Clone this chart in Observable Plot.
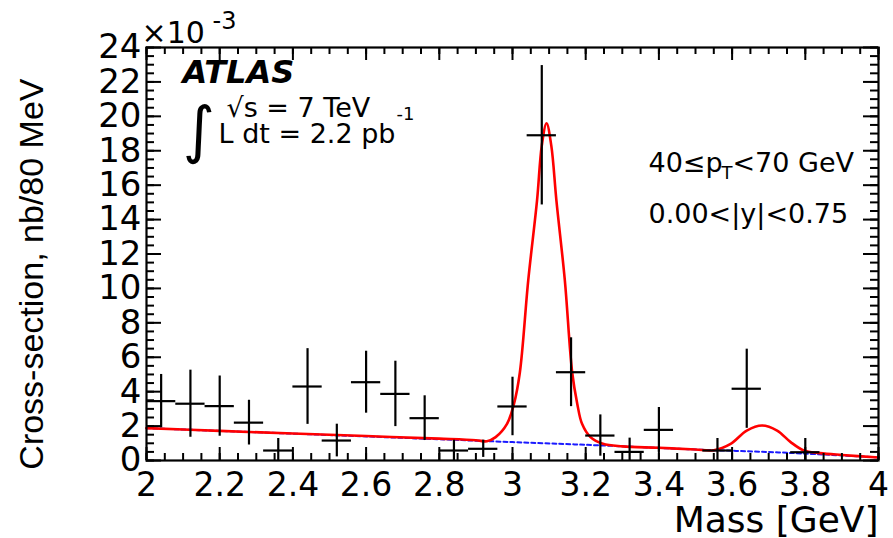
<!DOCTYPE html>
<html>
<head>
<meta charset="utf-8">
<script src="https://cdn.jsdelivr.net/npm/d3@7"></script>
<script src="https://cdn.jsdelivr.net/npm/@observablehq/plot@0.6"></script>
<style>
  html, body { margin: 0; padding: 0; background: white; }
  #chart svg { display: block; }
</style>
</head>
<body>
<div id="chart"></div>
<script>
// ---- Data points (mass bin centre in GeV, cross-section ×10^-3 nb/80 MeV, stat. error) ----
const binMass  = [2.04, 2.12, 2.20, 2.28, 2.36, 2.44, 2.52, 2.60, 2.68, 2.76, 2.84, 2.92, 3.00, 3.08, 3.16, 3.24, 3.32, 3.40, 3.56, 3.64, 3.80];
const binValue = [3.45, 3.30, 3.16, 2.20, 0.58, 4.30, 1.16, 4.55, 3.87, 2.46, 0.58, 0.68, 3.14, 18.9, 5.13, 1.45, 0.50, 1.78, 0.58, 4.17, 0.48];
const binError = [1.55, 1.95, 1.75, 1.30, 0.70, 2.20, 0.95, 1.80, 1.90, 1.30, 0.60, 0.50, 1.70, 4.05, 2.00, 1.20, 0.80, 1.30, 0.70, 2.30, 0.80];
const binHalfWidth = 0.04;

// ---- Fit curve (red) ----
const fitMass  = [2.00, 2.20, 2.40, 2.60, 2.80, 2.90, 2.93, 2.954, 2.985, 3.004, 3.02, 3.043, 3.067, 3.08, 3.093, 3.106, 3.12, 3.143, 3.163, 3.177, 3.19, 3.213, 3.247, 3.30, 3.40, 3.50, 3.55, 3.596, 3.64, 3.682, 3.723, 3.76, 3.796, 3.84, 3.90, 4.00];
const fitValue = [1.88, 1.72, 1.57, 1.42, 1.27, 1.18, 1.12, 1.36, 2.13, 3.29, 5.10, 10.47, 15.1, 18.3, 19.6, 18.3, 15.1, 10.47, 5.13, 3.29, 2.13, 1.36, 0.97, 0.82, 0.74, 0.64, 0.60, 0.97, 1.74, 2.03, 1.74, 1.07, 0.58, 0.43, 0.32, 0.17];

// ---- Background (blue dotted) ----
const bgMass  = [2.00, 2.50, 3.00, 3.25, 3.50, 3.75, 4.00];
const bgValue = [1.88, 1.48, 1.07, 0.87, 0.64, 0.45, 0.18];

// ---- Axis ticks ----
const xTickValues = [2, 2.2, 2.4, 2.6, 2.8, 3, 3.2, 3.4, 3.6, 3.8, 4];
const xTickLabels = ["2", "2.2", "2.4", "2.6", "2.8", "3", "3.2", "3.4", "3.6", "3.8", "4"];
const yTickValues = [0, 2, 4, 6, 8, 10, 12, 14, 16, 18, 20, 22, 24];
const yTickLabels = ["0", "2", "4", "6", "8", "10", "12", "14", "16", "18", "20", "22", "24"];
const xMinorTicks = d3.range(0, 41).map(i => 2 + i * 0.05);
const yMinorTicks = d3.range(0, 49).map(i => i * 0.5);

const points = binMass.map((m, i) => ({mass: m, value: binValue[i], err: binError[i]}));
const fit = fitMass.map((m, i) => ({mass: m, value: fitValue[i]}));
const bg = bgMass.map((m, i) => ({mass: m, value: bgValue[i]}));
const xTicks = xTickValues.map((v, i) => ({v, label: xTickLabels[i]}));
const yTicks = yTickValues.map((v, i) => ({v, label: yTickLabels[i]}));

const W = 893, H = 538;
const mL = 146, mR = 15, mT = 47, mB = 78;
const innerW = W - mL - mR, innerH = H - mT - mB;
const sans = "DejaVu Sans";

const chart = Plot.plot({
  width: W, height: H,
  marginLeft: mL, marginRight: mR, marginTop: mT, marginBottom: mB,
  x: {domain: [2, 4], axis: null},
  y: {domain: [0, 24], axis: null},
  style: {fontFamily: sans, background: "white", color: "black", overflow: "visible"},
  marks: [
    // background and fit
    Plot.line(bg, {x: "mass", y: "value", stroke: "#1a1aff", strokeWidth: 2, strokeDasharray: "4,3", curve: "catmull-rom"}),
    Plot.line(fit, {x: "mass", y: "value", stroke: "#ff0000", strokeWidth: 2.6, curve: "catmull-rom"}),
    // error bars
    Plot.ruleX(points, {x: "mass", y1: d => d.value - d.err, y2: d => d.value + d.err, stroke: "black", strokeWidth: 2.2, clip: true}),
    Plot.ruleY(points, {y: "value", x1: d => d.mass - binHalfWidth, x2: d => d.mass + binHalfWidth, stroke: "black", strokeWidth: 2.2, clip: true}),
    // inward ticks, bottom & top
    Plot.tickX(xMinorTicks, {x: d => d, insetTop: innerH - 7, stroke: "black", strokeWidth: 2}),
    Plot.tickX(xMinorTicks, {x: d => d, insetBottom: innerH - 7, stroke: "black", strokeWidth: 2}),
    Plot.tickX(xTickValues, {x: d => d, insetTop: innerH - 13, stroke: "black", strokeWidth: 2}),
    Plot.tickX(xTickValues, {x: d => d, insetBottom: innerH - 13, stroke: "black", strokeWidth: 2}),
    // inward ticks, left & right
    Plot.tickY(yMinorTicks, {y: d => d, insetRight: innerW - 8, stroke: "black", strokeWidth: 2}),
    Plot.tickY(yMinorTicks, {y: d => d, insetLeft: innerW - 8, stroke: "black", strokeWidth: 2}),
    Plot.tickY(yTickValues, {y: d => d, insetRight: innerW - 15, stroke: "black", strokeWidth: 2}),
    Plot.tickY(yTickValues, {y: d => d, insetLeft: innerW - 15, stroke: "black", strokeWidth: 2}),
    Plot.frame({stroke: "black", strokeWidth: 2.2}),
    // tick labels
    Plot.text(xTicks, {x: "v", text: "label", frameAnchor: "bottom", dy: 35, lineAnchor: "bottom", fontSize: 33, fill: "black"}),
    Plot.text(yTicks, {y: "v", text: "label", frameAnchor: "left", dx: -5, textAnchor: "end", lineAnchor: "middle", fontSize: 34, fill: "black"}),
    // axis titles
    Plot.text(["Mass [GeV]"], {frameAnchor: "bottom-right", dy: 71, textAnchor: "end", lineAnchor: "bottom", fontSize: 36, fill: "black"}),
    Plot.text(["Cross-section, nb/80 MeV"], {frameAnchor: "top-left", dx: -104, dy: 31, rotate: -90, textAnchor: "end", lineAnchor: "bottom", fontSize: 34, fontFamily: "Liberation Sans", fill: "black"}),
    // exponent
    Plot.text(["×10"], {frameAnchor: "top-left", dx: -5, dy: -5, textAnchor: "start", lineAnchor: "bottom", fontSize: 30, fill: "black"}),
    Plot.text(["-3"], {frameAnchor: "top-left", dx: 66, dy: -19, textAnchor: "start", lineAnchor: "bottom", fontSize: 24, fill: "black"}),
    // ATLAS labels
    Plot.text(["ATLAS"], {frameAnchor: "top-left", dx: 36, dy: 35, textAnchor: "start", lineAnchor: "bottom", fontSize: 32, fontWeight: "bold", fontStyle: "italic", fill: "black"}),
    Plot.text(["∫"], {frameAnchor: "top-left", dx: 36, dy: 103, textAnchor: "start", lineAnchor: "bottom", fontSize: 62, fill: "black"}),
    Plot.text(["√s = 7 TeV"], {frameAnchor: "top-left", dx: 80, dy: 69, textAnchor: "start", lineAnchor: "bottom", fontSize: 27, fill: "black"}),
    Plot.text(["L dt = 2.2 pb"], {frameAnchor: "top-left", dx: 72, dy: 95, textAnchor: "start", lineAnchor: "bottom", fontSize: 27, fill: "black"}),
    Plot.text(["-1"], {frameAnchor: "top-left", dx: 250, dy: 72, textAnchor: "start", lineAnchor: "bottom", fontSize: 18, fill: "black"}),
    // kinematic range labels
    Plot.text(["40≤p"], {frameAnchor: "top-left", dx: 502, dy: 124, textAnchor: "start", lineAnchor: "bottom", fontSize: 27, fill: "black"}),
    Plot.text(["T"], {frameAnchor: "top-left", dx: 575, dy: 131, textAnchor: "start", lineAnchor: "bottom", fontSize: 18, fill: "black"}),
    Plot.text(["<70 GeV"], {frameAnchor: "top-left", dx: 586, dy: 124, textAnchor: "start", lineAnchor: "bottom", fontSize: 27, fill: "black"}),
    Plot.text(["0.00<|y|<0.75"], {frameAnchor: "top-left", dx: 502, dy: 175, textAnchor: "start", lineAnchor: "bottom", fontSize: 27, fill: "black"})
  ]
});
document.getElementById("chart").appendChild(chart);
</script>
</body>
</html>
